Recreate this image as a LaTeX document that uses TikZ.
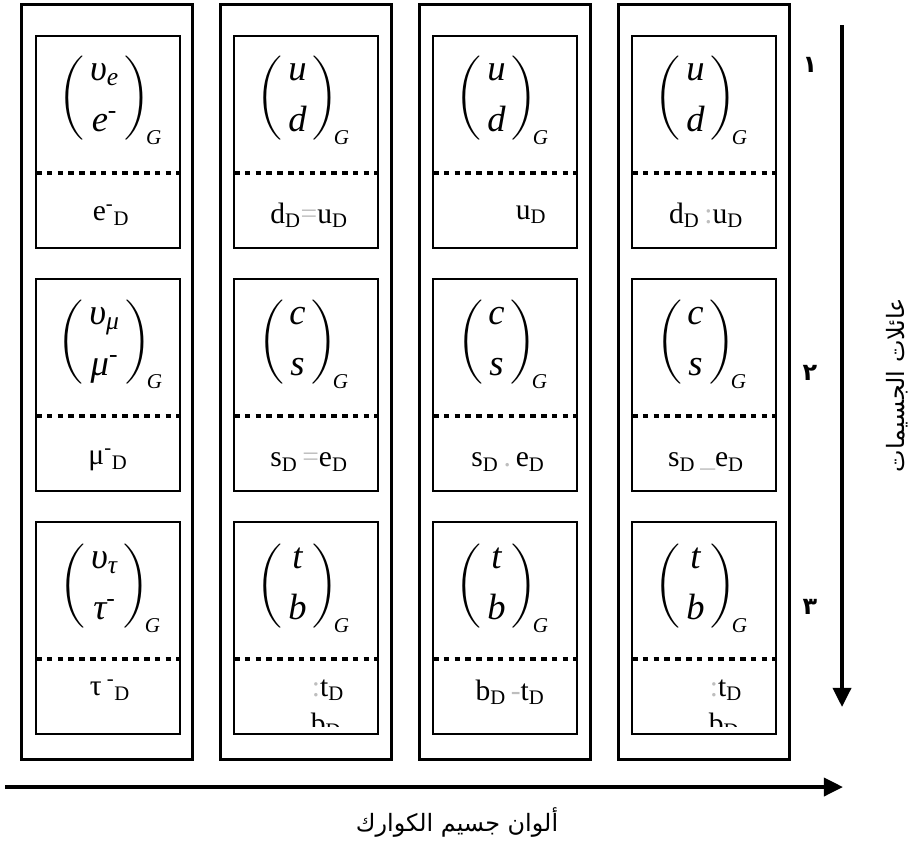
\documentclass[tikz,border=0pt]{standalone}
\usepackage{amsmath}
\usepackage{fontspec}
\setmainfont{Liberation Serif}
\newfontfamily\arabicfont[Script=Arabic]{DejaVu Sans}
\TeXXeTstate=1
\usetikzlibrary{arrows.meta}
\definecolor{faint}{RGB}{190,190,190}
\newcommand{\gen}[2]{$\left(\begin{array}{@{\hspace{4pt}}c@{\hspace{4pt}}}\text{\itshape #1}\\[8pt]\text{\itshape #2}\end{array}\right)$\kern-3pt\raisebox{-27pt}[0pt][0pt]{\fontsize{15}{15}\selectfont\itshape G}}
\newcommand{\sD}[1]{#1\textsubscript{D}}
\newcommand{\faintmark}[1]{{\color{faint}#1}}

\begin{document}
\begin{tikzpicture}[x=0.025cm,y=-0.025cm,
    column/.style={draw,line width=1.6pt,minimum width=4.275cm,minimum height=18.875cm,inner sep=0pt},
    dotline/.style={line width=0.1cm,dash pattern=on 0.14cm off 0.13cm},
    cell/.style={draw,line width=1.3pt,minimum width=3.6cm,minimum height=5.3cm,inner sep=0pt,
      path picture={\draw[dotline] ([yshift=-0.775cm]path picture bounding box.west) -- ([yshift=-0.775cm]path picture bounding box.east);}},
    gen/.style={font=\fontsize{26}{28}\selectfont,inner sep=0pt},
    mass/.style={font=\fontsize{21}{25}\selectfont,inner sep=0pt},
    digit/.style={font=\arabicfont\bfseries\fontsize{17}{20}\selectfont,inner sep=0pt},
    arlabel/.style={font=\arabicfont\fontsize{17}{20}\selectfont,inner sep=0pt},
    axis/.style={line width=0.1cm,-{Triangle[length=0.48cm,width=0.45cm]}}]
    \useasboundingbox (0,0) rectangle (912,843);
    \node[column] (col1) at (107,382) {};
    \node[column] (col2) at (306,382) {};
    \node[column] (col3) at (505,382) {};
    \node[column] (col4) at (704,382) {};
    \node[cell] (c11) at (108,142) {};
    \node[cell] (c12) at (306,142) {};
    \node[cell] (c13) at (505,142) {};
    \node[cell] (c14) at (704,142) {};
    \node[cell] (c21) at (108,385) {};
    \node[cell] (c22) at (306,385) {};
    \node[cell] (c23) at (505,385) {};
    \node[cell] (c24) at (704,385) {};
    \node[cell] (c31) at (108,628) {};
    \node[cell] (c32) at (306,628) {};
    \node[cell] (c33) at (505,628) {};
    \node[cell] (c34) at (704,628) {};
    \node[gen] (g11) at (110,98) {\gen{υ\textsubscript{e}}{e\textsuperscript{-}}};
    \node[gen] (g12) at (303,98) {\gen{u}{d}};
    \node[gen] (g13) at (502,98) {\gen{u}{d}};
    \node[gen] (g14) at (701,98) {\gen{u}{d}};
    \node[gen] (g21) at (110,342) {\gen{υ\textsubscript{μ}}{μ\textsuperscript{-}}};
    \node[gen] (g22) at (303,342) {\gen{c}{s}};
    \node[gen] (g23) at (502,342) {\gen{c}{s}};
    \node[gen] (g24) at (701,342) {\gen{c}{s}};
    \node[gen] (g31) at (110,586) {\gen{υ\textsubscript{τ}}{τ\textsuperscript{-}}};
    \node[gen] (g32) at (303,586) {\gen{t}{b}};
    \node[gen] (g33) at (502,586) {\gen{t}{b}};
    \node[gen] (g34) at (701,586) {\gen{t}{b}};
    \node[mass] (m11) at (111,215) {e\textsuperscript{-}\textsubscript{D}};
    \node[mass] (m12) at (309,215) {\sD{d}\faintmark{=}\sD{u}};
    \node[mass] (m13) at (531,215) {\sD{u}};
    \node[mass] (m14) at (706,215) {\sD{d}\,\faintmark{:}\sD{u}};
    \node[mass] (m21) at (108,460) {μ\textsuperscript{-}\textsubscript{D}};
    \node[mass] (m22) at (309,462) {\sD{s}\,\faintmark{=}\sD{e}};
    \node[mass] (m23) at (508,462) {\sD{s}\,\faintmark{.}\,\sD{e}};
    \node[mass] (m24) at (706,462) {\sD{s}\,\faintmark{\_}\sD{e}};
    \node[mass] (m31) at (110,690) {τ\,\textsuperscript{-}\textsubscript{D}};
    \node[mass] (m32) at (328,690) {\faintmark{:}\sD{t}};
    \node[mass] (m33) at (510,692) {\sD{b}\,\faintmark{-}\sD{t}};
    \node[mass] (m34) at (726,690) {\faintmark{:}\sD{t}};
    \begin{scope}
      \clip (c32.west) rectangle ([yshift=0.2cm]c32.south east);
      \node[mass,anchor=base] (b32) at (326,733) {\sD{b}};
    \end{scope}
    \begin{scope}
      \clip (c34.west) rectangle ([yshift=0.2cm]c34.south east);
      \node[mass,anchor=base] (b34) at (724,733) {\sD{b}};
    \end{scope}
    \coordinate (famtop) at (842,25);
    \coordinate (fambot) at (842,707);
    \draw[axis] (famtop) -- (fambot);
    \coordinate (colstart) at (5,787);
    \coordinate (colend) at (843,787);
    \draw[axis] (colstart) -- (colend);
    \node[digit] (n1) at (810,65) {١};
    \node[digit] (n2) at (810,373) {٢};
    \node[digit] (n3) at (810,607) {٣};
    \node[arlabel] (collabel) at (457,822) {\beginR ألوان جسيم الكوارك\endR};
    \node[arlabel,rotate=90] (famlabel) at (897,385) {\beginR عائلات الجسيمات\endR};
  \end{tikzpicture}
\end{document}
